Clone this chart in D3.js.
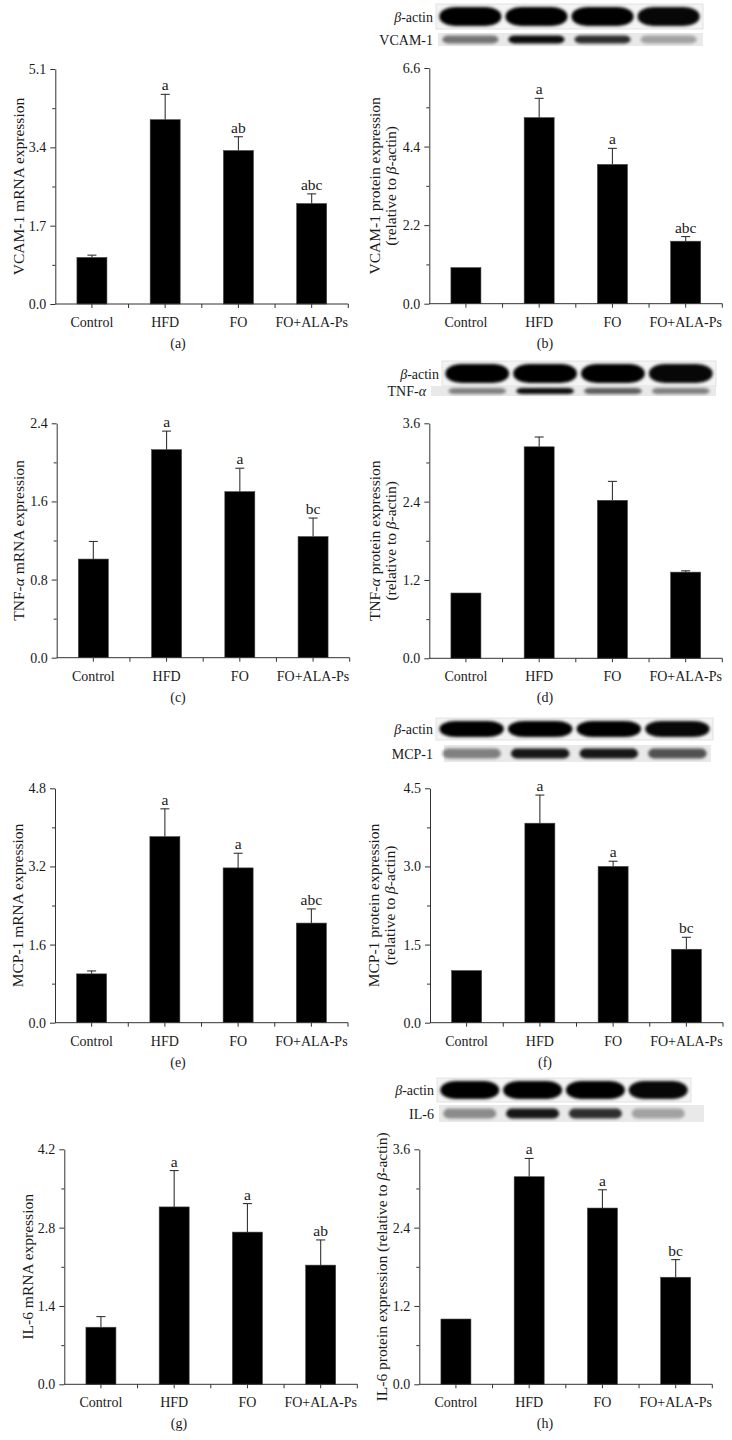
<!DOCTYPE html>
<html>
<head>
<meta charset="utf-8">
<script src="https://cdn.jsdelivr.net/npm/d3@7"></script>
<style>
    body { margin: 0; background: #fff; }
    svg text { font-family: "Liberation Serif", "DejaVu Serif", serif; fill: #1a1a1a; }
</style>
</head>
<body>
<svg id="fig" width="732" height="1440"></svg>
<script>
const groups = ["Control", "HFD", "FO", "FO+ALA-Ps"];

// (a) VCAM-1 mRNA
const vcamMrna = [1.01, 4.0, 3.33, 2.18];
const vcamMrnaErr = [0.05, 0.55, 0.30, 0.21];
const vcamMrnaSig = ["", "a", "ab", "abc"];
const vcamMrnaTicks = [0, 1.7, 3.4, 5.1];

// (b) VCAM-1 protein
const vcamProt = [1.01, 5.21, 3.90, 1.75];
const vcamProtErr = [0, 0.54, 0.45, 0.13];
const vcamProtSig = ["", "a", "a", "abc"];
const vcamProtTicks = [0, 2.2, 4.4, 6.6];
const vcamBlot = [0.5, 0.95, 0.8, 0.3];

// (c) TNF-alpha mRNA
const tnfMrna = [1.01, 2.13, 1.70, 1.24];
const tnfMrnaErr = [0.18, 0.19, 0.24, 0.19];
const tnfMrnaSig = ["", "a", "a", "bc"];
const tnfMrnaTicks = [0, 0.8, 1.6, 2.4];

// (d) TNF-alpha protein
const tnfProt = [1.0, 3.24, 2.42, 1.32];
const tnfProtErr = [0, 0.15, 0.29, 0.02];
const tnfProtSig = ["", "", "", ""];
const tnfProtTicks = [0, 1.2, 2.4, 3.6];
const tnfBlot = [0.45, 0.95, 0.6, 0.45];

// (e) MCP-1 mRNA
const mcpMrna = [1.0, 3.81, 3.17, 2.04];
const mcpMrnaErr = [0.06, 0.57, 0.30, 0.29];
const mcpMrnaSig = ["", "a", "a", "abc"];
const mcpMrnaTicks = [0, 1.6, 3.2, 4.8];

// (f) MCP-1 protein
const mcpProt = [1.0, 3.83, 3.0, 1.41];
const mcpProtErr = [0, 0.54, 0.10, 0.23];
const mcpProtSig = ["", "a", "a", "bc"];
const mcpProtTicks = [0, 1.5, 3.0, 4.5];
const mcpBlot = [0.45, 0.9, 0.9, 0.65];

// (g) IL-6 mRNA
const il6Mrna = [1.02, 3.17, 2.72, 2.13];
const il6MrnaErr = [0.19, 0.65, 0.51, 0.45];
const il6MrnaSig = ["", "a", "a", "ab"];
const il6MrnaTicks = [0, 1.4, 2.8, 4.2];

// (h) IL-6 protein
const il6Prot = [1.0, 3.18, 2.70, 1.64];
const il6ProtErr = [0, 0.28, 0.28, 0.27];
const il6ProtSig = ["", "a", "a", "bc"];
const il6ProtTicks = [0, 1.2, 2.4, 3.6];
const il6Blot = [0.4, 0.9, 0.8, 0.3];

const actinBlot = [1, 1, 1, 0.97];

const svg = d3.select("#fig");

svg.append("defs").append("filter")
    .attr("id", "blur")
    .attr("x", "-20%").attr("y", "-50%")
    .attr("width", "140%").attr("height", "200%")
    .append("feGaussianBlur")
    .attr("stdDeviation", 1.6);

let panels = [
    {letter: "(a)", vals: vcamMrna, err: vcamMrnaErr, sig: vcamMrnaSig, ticks: vcamMrnaTicks,
     ax: 55.3, top: 69, bot: 304, lx: 178, yl: [["VCAM-1 mRNA expression"]], ylx: [18]},
    {letter: "(b)", vals: vcamProt, err: vcamProtErr, sig: vcamProtSig, ticks: vcamProtTicks,
     ax: 429.3, top: 68, bot: 303.7, lx: 545,
     yl: [["VCAM-1 protein expression"], ["(relative to ", "β", "-actin)"]], ylx: [374, 390]},
    {letter: "(c)", vals: tnfMrna, err: tnfMrnaErr, sig: tnfMrnaSig, ticks: tnfMrnaTicks,
     ax: 56.7, top: 423.3, bot: 657.7, lx: 178, yl: [["TNF-", "α", " mRNA expression"]], ylx: [18]},
    {letter: "(d)", vals: tnfProt, err: tnfProtErr, sig: tnfProtSig, ticks: tnfProtTicks,
     ax: 429.3, top: 423.3, bot: 658.3, lx: 545,
     yl: [["TNF-", "α", " protein expression"], ["(relative to ", "β", "-actin)"]], ylx: [374, 390]},
    {letter: "(e)", vals: mcpMrna, err: mcpMrnaErr, sig: mcpMrnaSig, ticks: mcpMrnaTicks,
     ax: 55, top: 788.3, bot: 1022.7, lx: 178, yl: [["MCP-1 mRNA expression"]], ylx: [17]},
    {letter: "(f)", vals: mcpProt, err: mcpProtErr, sig: mcpProtSig, ticks: mcpProtTicks,
     ax: 430, top: 788.3, bot: 1022.7, lx: 545,
     yl: [["MCP-1 protein expression"], ["(relative to ", "β", "-actin)"]], ylx: [373, 389]},
    {letter: "(g)", vals: il6Mrna, err: il6MrnaErr, sig: il6MrnaSig, ticks: il6MrnaTicks,
     ax: 64.3, top: 1149.3, bot: 1384.3, lx: 179, yl: [["IL-6 mRNA expression"]], ylx: [27]},
    {letter: "(h)", vals: il6Prot, err: il6ProtErr, sig: il6ProtSig, ticks: il6ProtTicks,
     ax: 419.3, top: 1149.3, bot: 1384.3, lx: 545,
     yl: [["IL-6 protein expression (relative to ", "β", "-actin)"]], ylx: [381]}
];

let blots = [
    {name: "VCAM-1", vals: vcamBlot, x0: 438, x1: 701, ay: 6, ah: 21, ty: 33, th: 13, tx0: 438, tx1: 703},
    {name: ["TNF-", "α"], vals: tnfBlot, x0: 444, x1: 714, ay: 363, ah: 21, ty: 386, th: 10, tx0: 431, tx1: 716},
    {name: "MCP-1", vals: mcpBlot, x0: 438, x1: 711, ay: 720, ah: 18, ty: 745, th: 17, tx0: 444, tx1: 711},
    {name: "IL-6", vals: il6Blot, x0: 439, x1: 689, ay: 1080, ah: 20, ty: 1105, th: 17, tx0: 439, tx1: 704}
];

const axisLen = 293;
const fsTick = 14;
const fsTitle = 15.5;

function addText(sel, parts) {
    parts.forEach(p => {
        let t = sel.append("tspan").text(p);
        if (p === "β" || p === "α") t.attr("font-style", "italic");
    });
}

panels.forEach(p => {
    let g = svg.append("g");

    let x = d3.scaleBand()
        .domain(groups)
        .range([p.ax, p.ax + axisLen]);

    let y = d3.scaleLinear()
        .domain([0, p.ticks[p.ticks.length - 1]])
        .range([p.bot, p.top]);

    let barW = 30;
    let data = groups.map((k, i) => ({k: k, v: p.vals[i], e: p.err[i], s: p.sig[i]}));

    // bars
    g.selectAll("rect.bar")
        .data(data)
        .enter()
        .append("rect")
        .attr("class", "bar")
        .attr("x", d => x(d.k) + x.bandwidth() / 2 - barW / 2)
        .attr("y", d => y(d.v))
        .attr("width", barW)
        .attr("height", d => y(0) - y(d.v))
        .attr("fill", "#000")
        .attr("stroke", "#444")
        .attr("stroke-width", 0.6);

    // error bars (upper only)
    let eb = g.selectAll("g.err")
        .data(data.filter(d => d.e > 0))
        .enter()
        .append("g");

    eb.append("line")
        .attr("x1", d => x(d.k) + x.bandwidth() / 2)
        .attr("x2", d => x(d.k) + x.bandwidth() / 2)
        .attr("y1", d => y(d.v))
        .attr("y2", d => y(d.v + d.e))
        .attr("stroke", "#333")
        .attr("stroke-width", 1.1);

    eb.append("line")
        .attr("x1", d => x(d.k) + x.bandwidth() / 2 - 4.5)
        .attr("x2", d => x(d.k) + x.bandwidth() / 2 + 4.5)
        .attr("y1", d => y(d.v + d.e))
        .attr("y2", d => y(d.v + d.e))
        .attr("stroke", "#333")
        .attr("stroke-width", 1.1);

    // significance letters
    g.selectAll("text.sig")
        .data(data.filter(d => d.s))
        .enter()
        .append("text")
        .attr("x", d => x(d.k) + x.bandwidth() / 2)
        .attr("y", d => y(d.v + d.e) - 4)
        .attr("text-anchor", "middle")
        .attr("font-size", fsTitle)
        .text(d => d.s);

    // y axis with one minor tick between majors
    let step = p.ticks[1] - p.ticks[0];
    let minor = p.ticks.slice(0, -1).map(t => t + step / 2);

    g.append("g")
        .attr("transform", "translate(" + p.ax + ",0)")
        .call(d3.axisLeft(y).tickValues(minor).tickSize(3).tickFormat(""))
        .call(a => a.select(".domain").remove())
        .selectAll("line").attr("stroke", "#333");

    let yaxis = g.append("g")
        .attr("transform", "translate(" + p.ax + ",0)")
        .call(d3.axisLeft(y).tickValues(p.ticks).tickSize(5).tickSizeOuter(0).tickPadding(4)
            .tickFormat(d3.format(".1f")));
    yaxis.select(".domain").attr("stroke", "#333");
    yaxis.selectAll("line").attr("stroke", "#333");
    yaxis.selectAll("text")
        .attr("font-size", fsTick)
        .attr("fill", "#1a1a1a");

    // x axis: ticks at centres and at band edges
    let xaxis = g.append("g")
        .attr("transform", "translate(0," + p.bot + ")");

    xaxis.append("line")
        .attr("x1", p.ax).attr("x2", p.ax + axisLen)
        .attr("stroke", "#333");

    let edges = d3.range(1, groups.length + 1).map(i => p.ax + i * x.step());
    let centres = groups.map(k => x(k) + x.bandwidth() / 2);

    xaxis.selectAll("line.tk")
        .data(edges.concat(centres))
        .enter()
        .append("line")
        .attr("x1", d => d).attr("x2", d => d)
        .attr("y1", 0).attr("y2", 4)
        .attr("stroke", "#333");

    xaxis.selectAll("text")
        .data(groups)
        .enter()
        .append("text")
        .attr("x", d => x(d) + x.bandwidth() / 2)
        .attr("y", 23)
        .attr("text-anchor", "middle")
        .attr("font-size", fsTick)
        .text(d => d);

    // panel letter
    g.append("text")
        .attr("x", p.lx)
        .attr("y", p.bot + 44)
        .attr("text-anchor", "middle")
        .attr("font-size", fsTick)
        .text(p.letter);

    // y title
    let mid = (p.top + p.bot) / 2;
    p.yl.forEach((line, i) => {
        let t = g.append("text")
            .attr("transform", "translate(" + p.ylx[i] + "," + mid + ") rotate(-90)")
            .attr("text-anchor", "middle")
            .attr("dominant-baseline", "central")
            .attr("font-size", fsTitle);
        addText(t, line);
    });
});

// western blot strips above the protein panels
blots.forEach(b => {
    let g = svg.append("g");

    let lane = d3.scaleBand()
        .domain(groups)
        .range([b.x0, b.x1])
        .paddingInner(0.06)
        .paddingOuter(0.02);

    // actin row
    g.append("rect")
        .attr("x", b.x0 - 2).attr("y", b.ay - 2)
        .attr("width", b.x1 - b.x0 + 4).attr("height", b.ah + 4)
        .attr("fill", "#f4f4f4")
        .attr("stroke", "#dcdcdc")
        .attr("stroke-width", 0.8);

    g.selectAll("rect.actin")
        .data(groups)
        .enter()
        .append("rect")
        .attr("x", d => lane(d))
        .attr("y", b.ay + 1)
        .attr("width", lane.bandwidth())
        .attr("height", b.ah - 2)
        .attr("rx", lane.bandwidth() / 4)
        .attr("ry", (b.ah - 2) / 2)
        .attr("fill", "#000")
        .attr("opacity", (d, i) => actinBlot[i])
        .attr("filter", "url(#blur)");

    // target row
    g.append("rect")
        .attr("x", b.tx0).attr("y", b.ty)
        .attr("width", b.tx1 - b.tx0).attr("height", b.th)
        .attr("fill", "#e9e9e9");

    g.selectAll("rect.target")
        .data(groups)
        .enter()
        .append("rect")
        .attr("x", d => lane(d) + 3)
        .attr("y", b.ty + b.th * 0.2)
        .attr("width", lane.bandwidth() - 6)
        .attr("height", b.th * 0.6)
        .attr("rx", 6)
        .attr("fill", "#000")
        .attr("opacity", (d, i) => b.vals[i])
        .attr("filter", "url(#blur)");

    // row labels
    let a = g.append("text")
        .attr("x", b.x0 - 5)
        .attr("y", b.ay + b.ah / 2)
        .attr("text-anchor", "end")
        .attr("dominant-baseline", "central")
        .attr("font-size", fsTick);
    addText(a, ["β", "-actin"]);

    let t = g.append("text")
        .attr("x", Math.min(b.x0, b.tx0) - 5)
        .attr("y", b.ty + b.th / 2)
        .attr("text-anchor", "end")
        .attr("dominant-baseline", "central")
        .attr("font-size", fsTick);
    addText(t, Array.isArray(b.name) ? b.name : [b.name]);
});
</script>
</body>
</html>
